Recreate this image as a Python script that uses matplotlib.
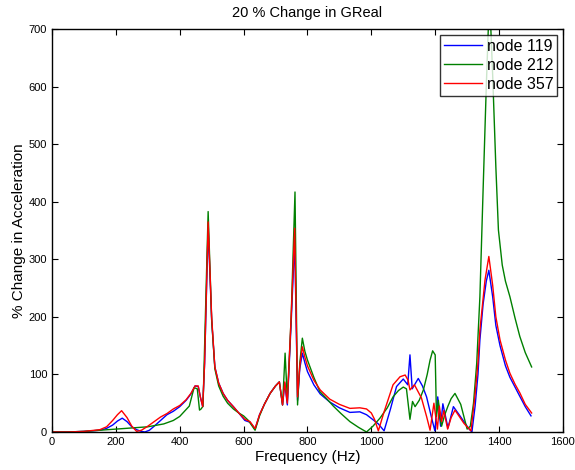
import matplotlib
matplotlib.use('Agg')
import matplotlib.pyplot as plt

plt.rcParams['font.family'] = ['Liberation Sans', 'DejaVu Sans']

# node 119 (blue)
freq_119 = [0, 50, 100, 150, 170, 190, 205, 220, 235, 250, 265, 280, 291, 305, 320, 340,
            360, 380, 400, 420, 435, 448, 458, 465, 472, 478, 489, 500, 510, 522, 536,
            550, 568, 585, 604, 620, 636, 650, 665, 683, 700, 712, 722, 729, 737, 749,
            760, 769, 776, 784, 792, 800, 820, 840, 870, 900, 933, 964, 985, 1006,
            1022, 1040, 1060, 1079, 1100, 1114, 1121, 1128, 1147, 1160, 1173, 1189,
            1199, 1208, 1217, 1224, 1240, 1257, 1275, 1290, 1305, 1315, 1325, 1334,
            1340, 1350, 1360, 1368, 1380, 1390, 1403, 1420, 1434, 1450, 1465, 1482, 1500]
val_119 = [0, 0, 1, 3, 6, 12, 19, 24, 18, 9, 4, 1, 0, 3, 10, 20,
           30, 36, 44, 55, 66, 80, 79, 60, 44, 120, 355, 195, 113, 85, 67,
           55, 44, 33, 20, 17, 5, 30, 48, 67, 80, 87, 47, 85, 47, 190,
           333, 55, 110, 137, 120, 105, 82, 66, 52, 42, 34, 35, 30, 21,
           14, 2, 40, 79, 92, 82, 134, 75, 93, 80, 61, 24,
           2, 61, 10, 49, 7, 44, 30, 18, 6, 0, 45, 100,
           160, 222, 262, 281, 235, 185, 150, 115, 95, 78, 62, 44, 28]

# node 212 (green)
freq_212 = [0, 50, 100, 150, 200, 250, 300, 350, 380, 400, 430, 445, 455, 462, 467,
            473, 489, 500, 510, 522, 536, 550, 568, 585, 600, 615, 636, 650, 665, 683,
            700, 712, 722, 730, 737, 749, 761, 769, 776, 784, 792, 800, 820, 839,
            860, 881, 905, 933, 960, 985, 1005, 1027, 1050, 1068, 1085, 1100, 1110,
            1121, 1129, 1137, 1150, 1163, 1175, 1184, 1192, 1200, 1204, 1210, 1215,
            1220, 1230, 1240, 1250, 1262, 1280, 1300, 1310, 1320, 1330, 1340, 1350,
            1360, 1370, 1380, 1390, 1398, 1410, 1420, 1434, 1450, 1465, 1482, 1502]
val_212 = [0, 0, 1, 3, 5, 7, 9, 14, 20, 27, 45, 77, 75, 38, 40,
           45, 383, 195, 110, 80, 62, 50, 40, 33, 28, 20, 3, 28, 48, 67,
           80, 87, 47, 137, 55, 200, 417, 47, 120, 163, 140, 125, 95, 70,
           58, 45, 32, 18, 8, 0, 10, 24, 42, 61, 72, 78, 75,
           22, 53, 44, 55, 73, 100, 125, 141, 134, 27, 55, 25,
           10, 30, 45, 58, 67, 48, 5, 10, 50, 119, 235, 420,
           600, 760, 620, 460, 351, 290, 262, 235, 198, 166, 138, 113]

# node 357 (red)
freq_357 = [0, 50, 100, 150, 171, 190, 205, 218, 235, 250, 265, 280, 300, 320, 340,
            360, 380, 400, 420, 435, 448, 458, 465, 472, 478, 489, 500, 510, 522, 536,
            550, 568, 585, 604, 620, 636, 650, 665, 683, 700, 712, 722, 729, 737, 749,
            760, 769, 776, 784, 792, 800, 820, 840, 870, 900, 933, 964, 985, 1000,
            1010, 1022, 1040, 1068, 1090, 1106, 1115, 1121, 1135, 1157, 1173, 1184,
            1196, 1207, 1213, 1220, 1227, 1239, 1250, 1262, 1290, 1312, 1324, 1334,
            1340, 1356, 1368, 1380, 1390, 1403, 1420, 1434, 1450, 1465, 1482, 1502]
val_357 = [0, 0, 1, 4, 9, 20, 30, 37, 25, 10, 1, 3, 10, 18, 26,
           32, 40, 46, 56, 67, 80, 80, 60, 44, 120, 365, 200, 113, 85, 67,
           55, 44, 33, 22, 18, 6, 30, 48, 67, 80, 87, 47, 87, 50, 200,
           354, 61, 115, 148, 130, 115, 90, 73, 57, 48, 41, 42, 40, 33,
           22, 2, 35, 82, 96, 99, 90, 73, 82, 59, 27, 3,
           50, 5, 45, 18, 37, 5, 25, 38, 15, 2, 60, 120,
           177, 264, 305, 255, 200, 160, 125, 102, 83, 68, 48, 33]

fig = plt.figure(figsize=(5.75, 4.7), dpi=100)
ax = fig.add_axes([0.0904, 0.0809, 0.8886, 0.8571])

ax.plot(freq_119, val_119, color='#0000ff', lw=1.0, label='node 119')
ax.plot(freq_212, val_212, color='#008000', lw=1.0, label='node 212')
ax.plot(freq_357, val_357, color='#ff0000', lw=1.0, label='node 357')

ax.set_xlim(0, 1600)
ax.set_ylim(0, 700)
ax.set_xticks(range(0, 1601, 200))
ax.set_yticks(range(0, 701, 100))
ax.tick_params(direction='in', top=True, right=True, labelsize=8, length=4)
for s in ax.spines.values():
    s.set_linewidth(1.0)

ax.set_xlabel('Frequency (Hz)', fontsize=11, labelpad=2)
ax.set_ylabel('% Change in Acceleration', fontsize=11, labelpad=2)
ax.set_title('20 % Change in GReal', fontsize=10.5, pad=9)

leg = ax.legend(loc='upper right', fontsize=11.5, frameon=True, fancybox=False,
                borderaxespad=0.35, handlelength=2.4, handletextpad=0.3,
                borderpad=0.25, labelspacing=0.25)
leg.get_frame().set_edgecolor('black')
leg.get_frame().set_linewidth(1.0)

fig.savefig('out.png', dpi=100)
